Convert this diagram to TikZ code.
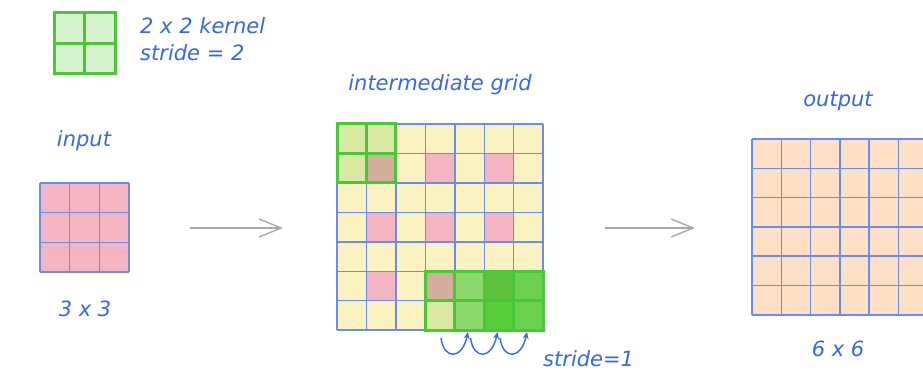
\documentclass[tikz,border=0pt]{standalone}
\usepackage{fontspec}
\setmainfont{DejaVu Sans}
\usetikzlibrary{arrows.meta}
\definecolor{txtblue}{HTML}{3468F2}
\definecolor{gridblue}{HTML}{6A8CF0}
\definecolor{pinkc}{HTML}{F4B4C2}
\definecolor{yel}{HTML}{FBF2C2}
\definecolor{peach}{HTML}{FDE0C6}
\definecolor{kfill}{HTML}{D6F2CF}
\definecolor{kline}{HTML}{48C838}
\definecolor{brownc}{HTML}{D3AF9B}
\definecolor{lgreen}{HTML}{D9E9A3}
\definecolor{mgreen}{HTML}{8DD86C}
\definecolor{dgreen}{HTML}{5CC23E}
\definecolor{dgreenb}{HTML}{58CE3A}
\definecolor{ggreen}{HTML}{6CD050}
\definecolor{arrowgray}{HTML}{A8A8A8}
\begin{document}
\begin{tikzpicture}[x=1pt,y=-1pt,
  lbl/.style={text=txtblue, font=\itshape\fontsize{21}{24}\selectfont, inner sep=0pt, anchor=base},
  gline/.style={draw=gridblue, line width=1.5pt},
  kgline/.style={draw=kline, line width=3pt},
  flow/.style={draw=arrowgray, line width=1.4pt, -{Straight Barb[length=22pt,width=18pt,line width=1.4pt]}},
  curl/.style={draw=txtblue, line width=1.4pt, -{Stealth[length=7pt,width=6pt]}}]
\useasboundingbox (0,0) rectangle (923,374);
\fill[white] (0,0) rectangle (923,374);

% kernel legend
\fill[kfill] (54,13) rectangle (115,74);
\draw[kgline] (54,13) rectangle (115,74);
\draw[kgline] (84.5,13) -- (84.5,74);
\draw[kgline] (54,43.5) -- (115,43.5);
\node[lbl, anchor=base west] (kt1) at (140,34) {2 x 2 kernel};
\node[lbl, anchor=base west] (kt2) at (140,61) {stride = 2};

% input grid
\node[lbl] (inlbl) at (84,147) {input};
\fill[pinkc] (40,183) rectangle (129,272);
\foreach \i in {0,...,3} {
  \draw[gline] (40+\i*29.67,183) -- ++(0,89);
  \draw[gline] (40,183+\i*29.67) -- ++(89,0);
}
\node[lbl] (insz) at (85,316) {3 x 3};
\coordinate (in) at (129,228);

% intermediate grid
\def\cs{29.45}
\node[lbl] (midlbl) at (440,91) {intermediate grid};
\fill[yel] (337,124) rectangle ++(7*\cs,7*\cs);
\foreach \r in {1,3,5} \foreach \c in {1,3,5}
  \fill[pinkc] (337+\c*\cs,124+\r*\cs) rectangle ++(\cs,\cs);
\foreach \r/\c/\col in {0/0/lgreen,0/1/lgreen,1/0/lgreen,1/1/brownc,
   5/3/brownc,6/3/lgreen,5/4/mgreen,6/4/mgreen,5/5/dgreen,6/5/dgreenb,5/6/ggreen,6/6/ggreen}
  \fill[\col] (337+\c*\cs,124+\r*\cs) rectangle ++(\cs,\cs);
\foreach \i in {0,...,7} {
  \draw[gline] (337+\i*\cs,124) -- ++(0,7*\cs);
  \draw[gline] (337,124+\i*\cs) -- ++(7*\cs,0);
}
% kernel positions
\draw[kgline] (337,124) rectangle ++(2*\cs,2*\cs);
\draw[kgline] (337+\cs,124) -- ++(0,2*\cs);
\draw[kgline] (337,124+\cs) -- ++(2*\cs,0);
\draw[kgline] (337+3*\cs,124+5*\cs) rectangle ++(4*\cs,2*\cs);
\foreach \c in {4,5,6}
  \draw[kgline] (337+\c*\cs,124+5*\cs) -- ++(0,2*\cs);
\draw[kgline] (337+3*\cs,124+6*\cs) -- ++(4*\cs,0);
\coordinate (midL) at (337,228);
\coordinate (midR) at (543,228);

% stride curls
\foreach \k in {0,1,2} {
  \coordinate (cs\k) at (441+\k*29.5,338);
  \coordinate (ce\k) at (468+\k*29.5,332);
  \draw[curl] (cs\k) .. controls ++(3,22) and ++(-6,28) .. (ce\k);
}
\node[lbl, anchor=base west] (strlbl) at (543,366) {stride=1};

% output grid
\node[lbl] (outlbl) at (838,107) {output};
\fill[peach] (752,139) rectangle ++(6*29.3,6*29.3);
\foreach \i in {0,...,6} {
  \draw[gline] (752+\i*29.3,139) -- ++(0,6*29.3);
  \draw[gline] (752,139+\i*29.3) -- ++(6*29.3,0);
}
\node[lbl] (outsz) at (838,356) {6 x 6};
\coordinate (outL) at (752,228);

% flow arrows
\coordinate (a1s) at (190,228);
\coordinate (a1e) at (283,228);
\coordinate (a2s) at (605,228);
\coordinate (a2e) at (695,228);
\draw[flow] (a1s) -- (a1e);
\draw[flow] (a2s) -- (a2e);
\end{tikzpicture}
\end{document}
